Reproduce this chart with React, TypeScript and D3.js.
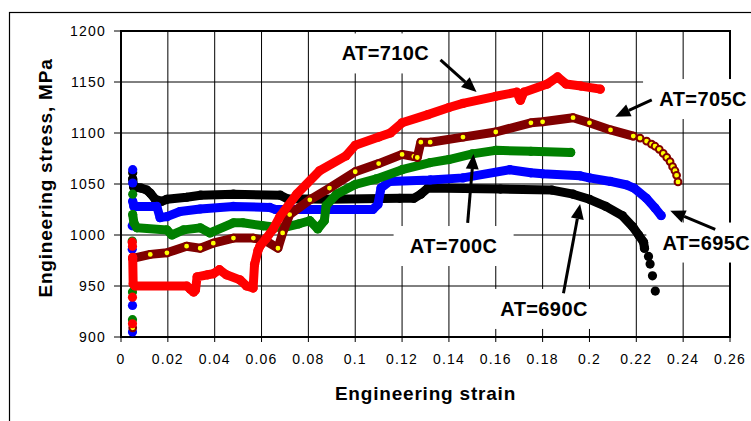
import * as d3 from "d3";

// axis ticks
const xTicks = [0, 0.02, 0.04, 0.06, 0.08, 0.1, 0.12, 0.14, 0.16, 0.18, 0.2, 0.22, 0.24, 0.26];
const xTickLabels = ["0", "0.02", "0.04", "0.06", "0.08", "0.1", "0.12", "0.14", "0.16", "0.18", "0.2", "0.22", "0.24", "0.26"];
const yTicks = [900, 950, 1000, 1050, 1100, 1150, 1200];
const yTickLabels = ["900", "950", "1000", "1050", "1100", "1150", "1200"];

// AT=690C (black)
const at690Line: [number, number][] = [
  [0.005, 1055], [0.0054, 1047], [0.0085, 1046], [0.011, 1044], [0.0125, 1041], [0.0146, 1035],
  [0.0174, 1033], [0.0196, 1035], [0.028, 1037], [0.034, 1039], [0.048, 1040], [0.068, 1039],
  [0.071, 1035.5], [0.089, 1035], [0.119, 1036], [0.125, 1036], [0.128, 1040], [0.131, 1046],
  [0.162, 1045], [0.184, 1044], [0.193, 1040], [0.2, 1035], [0.207, 1028], [0.214, 1019],
  [0.2185, 1008], [0.221, 1000], [0.2231, 993], [0.2235, 987],
];
const at690Dots: [number, number][] = [
  [0.005, 1061], [0.2252, 979], [0.2259, 971.5], [0.2269, 960], [0.2281, 945],
];

// AT=695C (blue)
const at695Line: [number, number][] = [
  [0.005, 1033], [0.0055, 1028], [0.0153, 1028], [0.0167, 1017], [0.0196, 1018], [0.0252, 1023],
  [0.0338, 1025.5], [0.048, 1028], [0.0635, 1027], [0.066, 1025], [0.1075, 1025], [0.1097, 1030],
  [0.111, 1046], [0.1146, 1052.5], [0.132, 1054], [0.146, 1056], [0.166, 1064], [0.175, 1061],
  [0.18, 1060], [0.196, 1058], [0.2, 1056], [0.209, 1052.5], [0.216, 1049], [0.219, 1046],
  [0.2243, 1036], [0.228, 1026.5], [0.2306, 1019],
];
const at695Dots: [number, number][] = [
  [0.005, 1064], [0.005, 1051], [0.0048, 1009], [0.0048, 986], [0.0049, 931], [0.0049, 905],
];

// AT=700C (green)
const at700Line: [number, number][] = [
  [0.005, 1020], [0.0055, 1012], [0.0068, 1007], [0.0196, 1005], [0.0217, 1000], [0.0267, 1005],
  [0.0338, 1007], [0.038, 1002], [0.048, 1012], [0.052, 1012], [0.0607, 1009], [0.069, 1007],
  [0.076, 1011], [0.0806, 1014], [0.084, 1006], [0.0868, 1014], [0.0876, 1029], [0.092, 1040],
  [0.1, 1049.5], [0.109, 1055], [0.12, 1064], [0.132, 1071], [0.14, 1074], [0.15, 1079.5],
  [0.16, 1083], [0.175, 1082], [0.192, 1081],
];
const at700Dots: [number, number][] = [
  [0.005, 1040], [0.0048, 994], [0.0049, 944], [0.0049, 917],
];

// AT=705C (maroon, yellow markers)
const at705Line: [number, number][] = [
  [0.005, 977], [0.0125, 981], [0.0196, 982.5], [0.028, 989], [0.0338, 987], [0.0394, 992],
  [0.048, 997], [0.0565, 997], [0.062, 994], [0.067, 987], [0.069, 1002], [0.072, 1020],
  [0.0806, 1034.5], [0.089, 1046], [0.1, 1062], [0.11, 1070], [0.12, 1079], [0.125, 1077],
  [0.1265, 1076], [0.128, 1091], [0.132, 1091], [0.146, 1096], [0.16, 1101], [0.175, 1110],
  [0.18, 1111], [0.193, 1115], [0.2, 1110], [0.209, 1103], [0.2187, 1097],
];
const at705Dots: [number, number][] = [
  [0.005, 909], [0.2216, 1095], [0.2244, 1092], [0.2265, 1089], [0.228, 1087], [0.2298, 1084],
  [0.2315, 1080], [0.233, 1076], [0.2344, 1072], [0.2355, 1067], [0.2365, 1063], [0.2372, 1058.5],
  [0.2378, 1052],
];

// AT=710C (red)
const at710Line: [number, number][] = [
  [0.005, 978], [0.0052, 952], [0.006, 950], [0.0281, 950], [0.0295, 947], [0.031, 944],
  [0.0318, 946], [0.0325, 959], [0.037, 961], [0.0394, 962], [0.042, 966], [0.045, 961],
  [0.0508, 956], [0.0536, 950], [0.0564, 948], [0.057, 971], [0.0585, 985], [0.0593, 989],
  [0.0621, 997], [0.065, 1006], [0.0678, 1018], [0.075, 1040], [0.0848, 1063], [0.096, 1077.5],
  [0.1, 1088], [0.11, 1096], [0.115, 1100], [0.12, 1110], [0.131, 1118], [0.14, 1125],
  [0.146, 1129], [0.16, 1136], [0.169, 1140], [0.1705, 1132], [0.172, 1140], [0.182, 1148],
  [0.1864, 1155], [0.19, 1148], [0.1964, 1146], [0.2046, 1143],
];
const at710Dots: [number, number][] = [
  [0.0048, 993], [0.0049, 989], [0.0049, 939], [0.0049, 913],
];

const labels = ["AT=690C", "AT=695C", "AT=700C", "AT=705C", "AT=710C"];
// label centre and arrow (tail -> tip), in strain / stress units
const labelPos: [number, number][] = [[0.1806, 927.5], [0.2499, 992.6], [0.142, 989.2], [0.2485, 1133.3], [0.1129, 1178]];
const arrowFrom: [number, number][] = [[0.1889, 942.8], [0.2537, 1005.6], [0.148, 1011.8], [0.2266, 1132.4], [0.1364, 1171.6]];
const arrowTo: [number, number][] = [[0.196, 1030.4], [0.2345, 1023.8], [0.1505, 1079.4], [0.211, 1116], [0.1518, 1140.2]];

const W = 751;
const H = 421;
const M = { left: 121, right: 730, top: 31, bottom: 337 };
const font = "'Liberation Sans', Arial, sans-serif";

const series = [
  { line: at690Line, dots: at690Dots, color: "#000000", marker: "#000000" },
  { line: at695Line, dots: at695Dots, color: "#0000ff", marker: "#0000ff" },
  { line: at700Line, dots: at700Dots, color: "#008000", marker: "#008000" },
  { line: at705Line, dots: at705Dots, color: "#800000", marker: "#ffff00" },
  { line: at710Line, dots: at710Dots, color: "#ff0000", marker: "#ff0000" },
];

export default function App() {
  const x = d3.scaleLinear().domain([0, 0.26]).range([M.left, M.right]);
  const y = d3.scaleLinear().domain([900, 1200]).range([M.bottom, M.top]);
  const line = d3.line<[number, number]>().x((d) => x(d[0])).y((d) => y(d[1]));

  return (
    <svg width={W} height={H} style={{ position: "absolute", left: 0, top: 0, background: "#fff" }}>
      {/* outer chart frame */}
      <rect x={9.5} y={12.5} width={W + 20} height={H + 20} fill="#fff" stroke="#000" strokeWidth={1.2} />

      {/* grid */}
      {xTicks.map((t, i) => (
        <line key={"gx" + i} x1={x(t)} x2={x(t)} y1={M.top} y2={M.bottom + 5} stroke="#000" strokeWidth={1} />
      ))}
      {yTicks.map((t, i) => (
        <line key={"gy" + i} x1={M.left - 7} x2={M.right} y1={y(t)} y2={y(t)} stroke="#000" strokeWidth={1} />
      ))}
      <rect x={M.left} y={M.top} width={M.right - M.left} height={M.bottom - M.top} fill="none" stroke="#000" strokeWidth={2} />

      {/* label boxes hide the grid */}
      {labels.map((l, i) => (
        <rect key={"b" + i} x={x(labelPos[i][0]) - 60} y={y(labelPos[i][1]) - 20} width={120} height={40} fill="#fff" />
      ))}

      {/* tick labels */}
      {yTicks.map((t, i) => (
        <text key={"yl" + i} x={M.left - 15} y={y(t) + 5} textAnchor="end" fontFamily={font} fontSize={14} letterSpacing={1.2} fill="#000">
          {yTickLabels[i]}
        </text>
      ))}
      {xTicks.map((t, i) => (
        <text key={"xl" + i} x={x(t)} y={M.bottom + 27} textAnchor="middle" fontFamily={font} fontSize={14} letterSpacing={1.2} fill="#000">
          {xTickLabels[i]}
        </text>
      ))}

      {/* axis titles */}
      <text x={(M.left + M.right) / 2} y={400} textAnchor="middle" fontFamily={font} fontSize={19} fontWeight="bold" letterSpacing={0.8}>
        Engineering strain
      </text>
      <text
        transform={`translate(52,178) rotate(-90)`}
        textAnchor="middle"
        fontFamily={font}
        fontSize={19}
        fontWeight="bold"
        letterSpacing={0.8}
      >
        Engineering stress, MPa
      </text>

      {/* series */}
      {series.map((s, i) => (
        <g key={"s" + i}>
          <path d={line(s.line) || ""} fill="none" stroke={s.color} strokeWidth={9} strokeLinejoin="round" strokeLinecap="round" />
          {s.line.concat(s.dots).map((d, j) =>
            s.marker === s.color ? (
              <circle key={j} cx={x(d[0])} cy={y(d[1])} r={4.6} fill={s.color} />
            ) : (
              <circle key={j} cx={x(d[0])} cy={y(d[1])} r={3.4} fill={s.marker} stroke={s.color} strokeWidth={2} />
            )
          )}
        </g>
      ))}

      {/* annotations */}
      {labels.map((l, i) => {
        const x0 = x(arrowFrom[i][0]);
        const y0 = y(arrowFrom[i][1]);
        const x1 = x(arrowTo[i][0]);
        const y1 = y(arrowTo[i][1]);
        const a = Math.atan2(y1 - y0, x1 - x0);
        const len = 15;
        const wid = 6.5;
        const bx = x1 - len * Math.cos(a);
        const by = y1 - len * Math.sin(a);
        const pts = [
          [x1, y1],
          [bx + wid * Math.sin(a), by - wid * Math.cos(a)],
          [bx - wid * Math.sin(a), by + wid * Math.cos(a)],
        ];
        return (
          <g key={"a" + i}>
            <text x={x(labelPos[i][0])} y={y(labelPos[i][1]) + 7} textAnchor="middle" fontFamily={font} fontSize={20} fontWeight="bold" letterSpacing={0.4}>
              {l}
            </text>
            <line x1={x0} y1={y0} x2={bx} y2={by} stroke="#000" strokeWidth={3} />
            <polygon points={pts.map((p) => p.join(",")).join(" ")} fill="#000" />
          </g>
        );
      })}
    </svg>
  );
}
